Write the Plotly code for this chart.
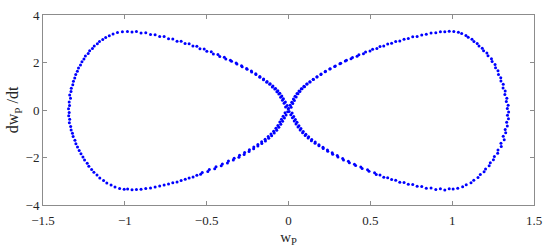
import plotly.graph_objects as go

# Upper-right arc (origin -> top of right lobe)
ur_w = [0.000,0.016,0.010,0.026,0.020,0.036,0.030,0.047,0.040,0.058,0.052,0.070,0.064,0.083,0.078,0.098,0.094,0.114,0.111,0.132,0.130,0.152,0.151,0.174,0.174,0.198,0.199,0.224,0.226,0.252,0.255,0.282,0.286,0.314,0.319,0.347,0.354,0.382,0.391,0.419,0.430,0.458,0.471,0.498,0.514,0.540,0.559,0.582,0.606,0.630,0.655,0.680,0.706,0.732,0.759,0.786,0.814,0.842,0.871,0.900,0.928,0.955,0.982]
ur_dw = [0.06,0.12,0.20,0.27,0.33,0.40,0.46,0.55,0.58,0.68,0.70,0.78,0.80,0.89,0.90,0.98,1.00,1.09,1.10,1.18,1.19,1.28,1.30,1.39,1.40,1.50,1.52,1.61,1.63,1.73,1.74,1.83,1.85,1.95,1.97,2.06,2.09,2.16,2.21,2.26,2.33,2.37,2.44,2.48,2.56,2.59,2.67,2.70,2.78,2.81,2.88,2.91,2.98,3.01,3.08,3.10,3.16,3.19,3.24,3.25,3.30,3.29,3.32]

# Right outer side of right lobe (top -> bottom)
ro_w = [1.010,1.038,1.058,1.084,1.098,1.121,1.133,1.153,1.164,1.184,1.192,1.212,1.219,1.240,1.244,1.262,1.265,1.280,1.283,1.297,1.298,1.312,1.311,1.324,1.322,1.334,1.331,1.342,1.337,1.345,1.338,1.344,1.333,1.337,1.324,1.327,1.312,1.318,1.298,1.300,1.280,1.278,1.258,1.252,1.233,1.226,1.204,1.195,1.172,1.158,1.132,1.115,1.086,1.064,1.034,1.006]
ro_dw = [3.31,3.27,3.22,3.14,3.06,2.98,2.88,2.80,2.70,2.60,2.50,2.40,2.28,2.16,2.04,1.92,1.78,1.65,1.50,1.36,1.22,1.08,0.93,0.80,0.65,0.50,0.36,0.20,0.06,-0.08,-0.22,-0.37,-0.52,-0.67,-0.82,-0.96,-1.10,-1.25,-1.40,-1.54,-1.68,-1.82,-1.96,-2.09,-2.22,-2.35,-2.48,-2.60,-2.72,-2.84,-2.96,-3.06,-3.15,-3.23,-3.29,-3.33]

# Lower-right arc (origin -> bottom of right lobe)
lr_w = [0.004,0.022,0.014,0.032,0.024,0.042,0.035,0.052,0.046,0.064,0.058,0.076,0.071,0.090,0.086,0.106,0.102,0.123,0.120,0.142,0.140,0.163,0.162,0.186,0.186,0.211,0.212,0.238,0.240,0.267,0.270,0.298,0.302,0.331,0.336,0.366,0.372,0.403,0.410,0.442,0.450,0.483,0.492,0.526,0.536,0.559,0.582,0.606,0.630,0.655,0.680,0.706,0.732,0.759,0.786,0.814,0.842,0.871,0.900,0.928,0.955,0.982]
lr_dw = [-0.06,-0.13,-0.20,-0.27,-0.33,-0.40,-0.46,-0.52,-0.59,-0.66,-0.72,-0.78,-0.84,-0.90,-0.96,-1.02,-1.07,-1.13,-1.18,-1.24,-1.29,-1.35,-1.40,-1.46,-1.51,-1.57,-1.62,-1.68,-1.74,-1.80,-1.86,-1.92,-1.98,-2.04,-2.10,-2.16,-2.22,-2.28,-2.34,-2.40,-2.46,-2.52,-2.58,-2.64,-2.72,-2.74,-2.83,-2.85,-2.93,-2.96,-3.04,-3.05,-3.13,-3.14,-3.21,-3.22,-3.29,-3.28,-3.35,-3.32,-3.37,-3.32]

# Upper-left arc (origin -> top of left lobe)
ul_w = [-0.002,-0.018,-0.008,-0.027,-0.019,-0.037,-0.031,-0.048,-0.041,-0.059,-0.053,-0.071,-0.065,-0.084,-0.079,-0.099,-0.095,-0.115,-0.112,-0.133,-0.131,-0.153,-0.152,-0.175,-0.175,-0.199,-0.200,-0.225,-0.227,-0.253,-0.256,-0.283,-0.287,-0.315,-0.320,-0.348,-0.355,-0.383,-0.392,-0.420,-0.431,-0.459,-0.472,-0.499,-0.515,-0.541,-0.560,-0.584,-0.607,-0.632,-0.656,-0.681,-0.707,-0.733,-0.760,-0.787,-0.815,-0.843,-0.872,-0.901,-0.929,-0.956,-0.984]
ul_dw = [0.05,0.13,0.19,0.28,0.34,0.41,0.47,0.54,0.59,0.67,0.71,0.77,0.81,0.88,0.91,0.97,1.01,1.08,1.11,1.17,1.20,1.27,1.31,1.38,1.41,1.49,1.53,1.60,1.64,1.72,1.75,1.82,1.86,1.94,1.98,2.05,2.10,2.15,2.22,2.25,2.34,2.36,2.45,2.47,2.57,2.58,2.68,2.69,2.79,2.80,2.89,2.90,2.99,3.00,3.09,3.09,3.17,3.18,3.25,3.24,3.31,3.28,3.31]

# Left outer side of left lobe (top -> bottom)
lo_w = [-1.015,-1.045,-1.072,-1.095,-1.117,-1.135,-1.155,-1.168,-1.187,-1.198,-1.215,-1.224,-1.241,-1.250,-1.262,-1.271,-1.283,-1.290,-1.300,-1.306,-1.314,-1.318,-1.327,-1.329,-1.337,-1.332,-1.340,-1.338,-1.344,-1.340,-1.343,-1.337,-1.339,-1.331,-1.328,-1.320,-1.316,-1.305,-1.299,-1.289,-1.279,-1.268,-1.256,-1.246,-1.230,-1.220,-1.203,-1.189,-1.170,-1.153,-1.130,-1.110,-1.084,-1.060,-1.032,-1.004]
lo_dw = [3.30,3.26,3.20,3.13,3.05,2.97,2.88,2.79,2.69,2.59,2.49,2.38,2.27,2.15,2.03,1.90,1.77,1.63,1.49,1.35,1.21,1.06,0.92,0.78,0.63,0.49,0.34,0.19,0.05,-0.10,-0.24,-0.39,-0.54,-0.69,-0.84,-0.98,-1.12,-1.27,-1.42,-1.56,-1.70,-1.84,-1.98,-2.11,-2.24,-2.37,-2.50,-2.62,-2.74,-2.86,-2.97,-3.07,-3.16,-3.24,-3.30,-3.34]

# Lower-left arc (origin -> bottom of left lobe)
ll_w = [-0.005,-0.021,-0.015,-0.033,-0.025,-0.043,-0.036,-0.053,-0.047,-0.065,-0.059,-0.077,-0.072,-0.091,-0.087,-0.107,-0.103,-0.124,-0.121,-0.143,-0.141,-0.164,-0.163,-0.187,-0.187,-0.212,-0.213,-0.239,-0.241,-0.268,-0.271,-0.299,-0.303,-0.332,-0.337,-0.367,-0.373,-0.404,-0.411,-0.443,-0.451,-0.484,-0.493,-0.527,-0.537,-0.560,-0.583,-0.607,-0.631,-0.656,-0.681,-0.707,-0.733,-0.760,-0.787,-0.815,-0.843,-0.872,-0.901,-0.929,-0.956,-0.983]
ll_dw = [-0.07,-0.12,-0.21,-0.26,-0.34,-0.39,-0.47,-0.51,-0.60,-0.65,-0.73,-0.77,-0.85,-0.89,-0.97,-1.01,-1.08,-1.12,-1.19,-1.23,-1.30,-1.34,-1.41,-1.45,-1.52,-1.56,-1.63,-1.67,-1.75,-1.79,-1.87,-1.91,-1.99,-2.03,-2.11,-2.15,-2.23,-2.27,-2.35,-2.39,-2.47,-2.51,-2.59,-2.63,-2.71,-2.75,-2.82,-2.86,-2.92,-2.97,-3.03,-3.06,-3.12,-3.16,-3.20,-3.24,-3.28,-3.31,-3.34,-3.35,-3.36,-3.33]

x_ticks = [-1.5, -1, -0.5, 0, 0.5, 1, 1.5]
x_tick_labels = ["\u22121.5", "\u22121", "\u22120.5", "0", "0.5", "1", "1.5"]
y_ticks = [-4, -2, 0, 2, 4]
y_tick_labels = ["\u22124", "\u22122", "0", "2", "4"]

w_all = ur_w + ro_w + lr_w + ul_w + lo_w + ll_w
dw_all = ur_dw + ro_dw + lr_dw + ul_dw + lo_dw + ll_dw

fig = go.Figure()
fig.add_trace(go.Scatter(
    x=w_all, y=dw_all, mode="markers",
    marker=dict(color="#0000ff", size=3, line=dict(width=0)),
    showlegend=False, hoverinfo="skip",
))

font_family = "Liberation Serif, Times New Roman, serif"
axis_common = dict(
    showgrid=False, zeroline=False, showline=True, mirror="ticks",
    linecolor="#8c8c8c", linewidth=1, ticks="inside", ticklen=4,
    tickcolor="#8c8c8c", tickfont=dict(family=font_family, size=13, color="#262626"),
)
fig.update_layout(
    width=550, height=250,
    margin=dict(l=43, r=14, t=8, b=45),
    paper_bgcolor="white", plot_bgcolor="white",
    xaxis=dict(range=[-1.5, 1.5], tickvals=x_ticks, ticktext=x_tick_labels,
               ticklabelstandoff=3,
               title=dict(text="w<sub>P</sub>", font=dict(family=font_family, size=15, color="#262626"), standoff=4),
               **axis_common),
    yaxis=dict(range=[-4, 4], tickvals=y_ticks, ticktext=y_tick_labels,
               title=dict(text="dw<sub>P</sub> /dt", font=dict(family=font_family, size=16, color="#262626"), standoff=2),
               **axis_common),
)
fig.write_html("out.html")
